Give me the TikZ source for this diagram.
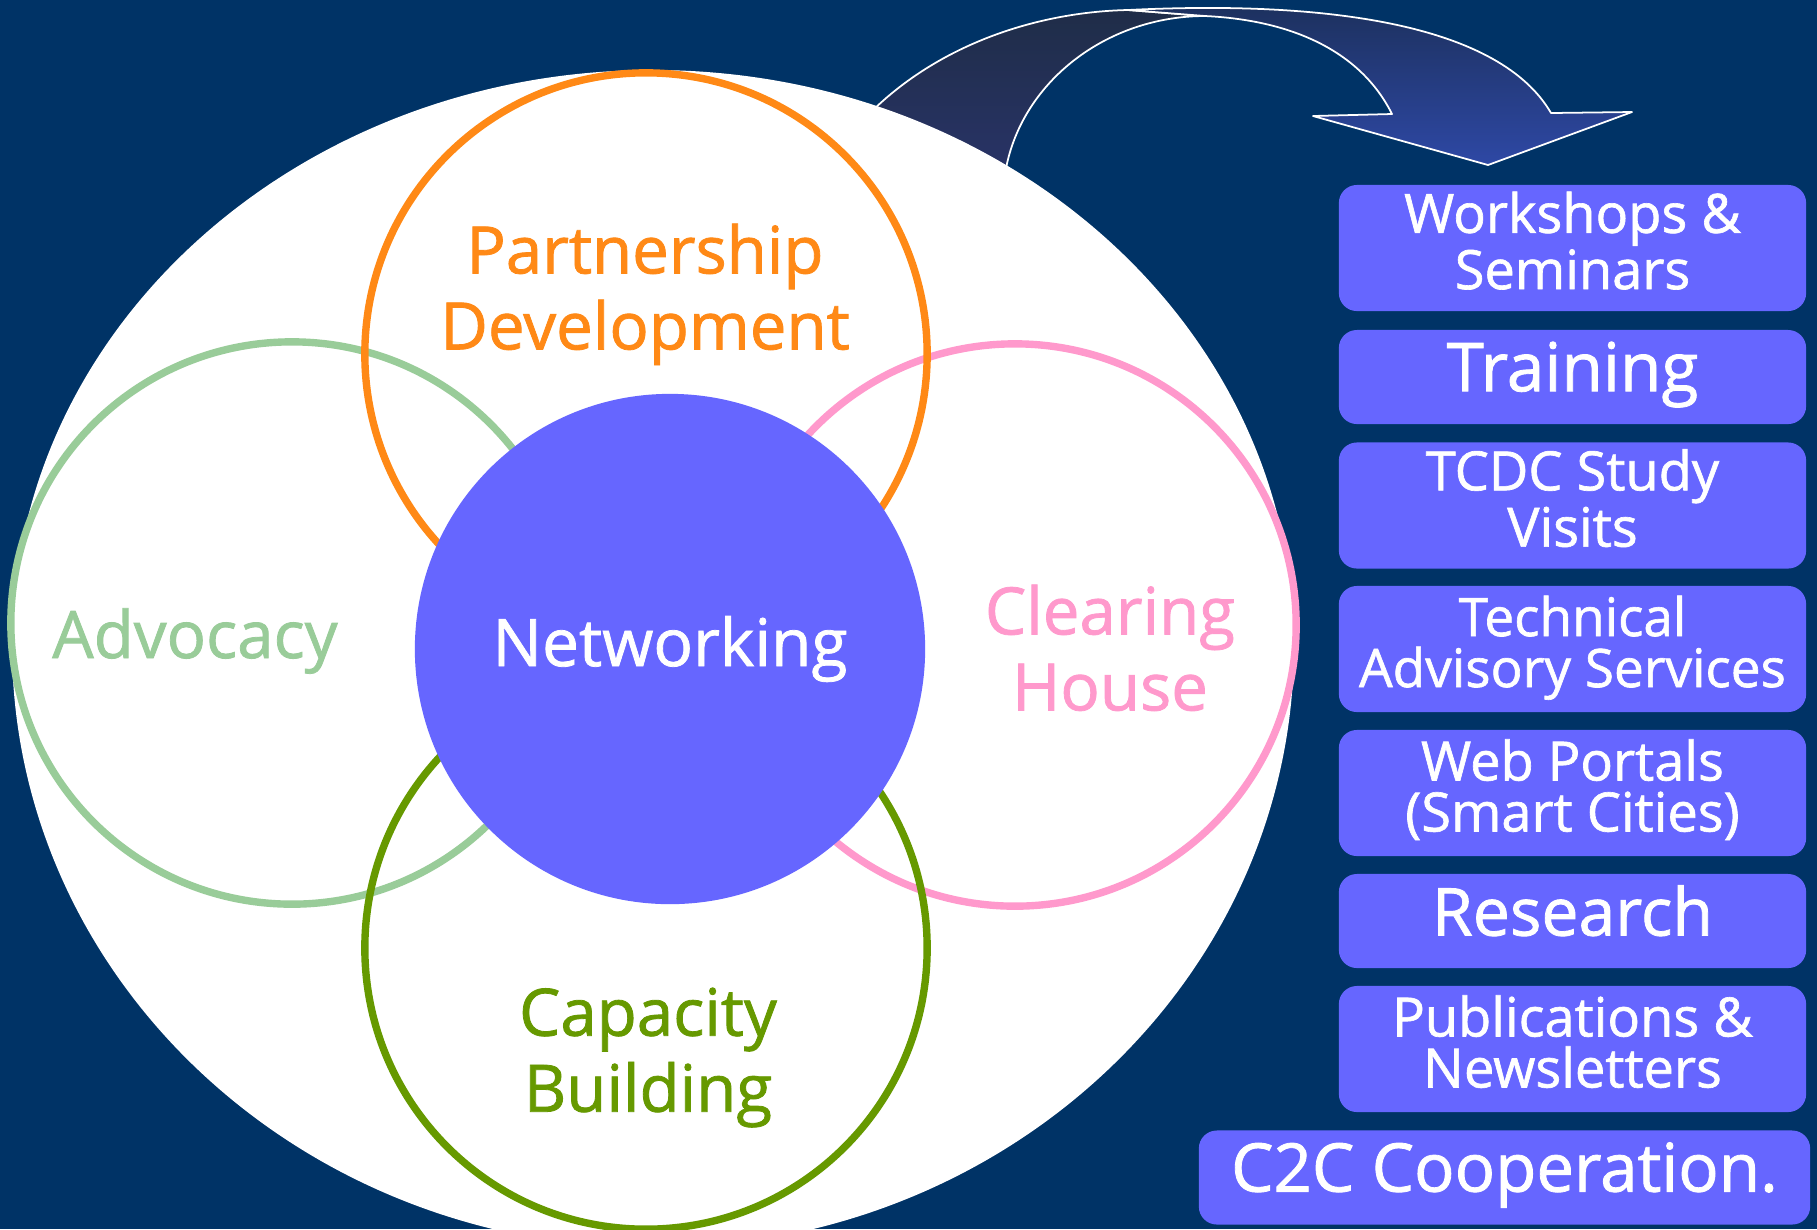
\documentclass[tikz,border=0pt]{standalone}
\usepackage{fontspec}
\setmainfont{Open Sans}[FakeBold=1.2]

\definecolor{navy}{RGB}{0,51,102}
\definecolor{netblue}{RGB}{102,102,255}
\definecolor{pdorange}{RGB}{255,137,22}
\definecolor{advgreen}{RGB}{153,204,153}
\definecolor{chpink}{RGB}{255,153,204}
\definecolor{cbgreen}{RGB}{102,153,0}
\definecolor{backtop}{RGB}{31,45,72}
\definecolor{backbot}{RGB}{42,52,108}
\definecolor{fronttop}{RGB}{28,48,92}
\definecolor{frontbot}{RGB}{46,72,165}

\begin{document}
\begin{tikzpicture}[x=0.01cm, y=-0.01cm,
	ring/.style={circle, draw, line width=2.1pt, minimum size=5.62cm, inner sep=0pt},
	lbl/.style={font=\fontsize{18.6}{21.6}\selectfont, align=center, inner sep=0pt},
	item/.style={fill=netblue, text=white, rounded corners=0.18cm, align=center, inner sep=0pt, minimum width=4.67cm, execute at end node=\strut},
	twoline/.style={item, minimum height=1.26cm, font=\fontsize{15.4}{14.5}\selectfont},
	oneline/.style={item, minimum height=0.94cm, font=\fontsize{18.8}{20}\selectfont},
	arrowline/.style={draw=white, line width=0.5pt, line join=round}]
	\def\bx{1572.5}

	% BACKGROUND
	\useasboundingbox (0,0) rectangle (1817,1229);
	\fill[navy] (0,0) rectangle (1817,1229);

	% ARROW
	\draw[arrowline, top color=backtop, bottom color=backbot] (850,135) .. controls (920,50) and (1030,12) .. (1128,10) -- (1205,16) .. controls (1095,16) and (1003,98) .. (1003,200) -- cycle;
	\draw[arrowline, top color=fronttop, bottom color=frontbot] (1128,10) .. controls (1330,0) and (1500,25) .. (1551,113) -- (1632,112) -- (1488,165) -- (1313,116) -- (1392,114) .. controls (1360,50) and (1290,20) .. (1205,16) -- cycle;

	% EGG
	\fill[white] (12,645) arc[start angle=180, end angle=360, x radius=641, y radius=575]
		arc[start angle=0, end angle=180, x radius=641, y radius=603] -- cycle;

	% CIRCLES
	\node[ring, draw=advgreen] (adv) at (292,623) {};
	\node[ring, draw=chpink] (ch) at (1015,625) {};
	\node[ring, draw=pdorange] (pd) at (646,354) {};
	\node[ring, draw=cbgreen] (cb) at (646,948) {};
	\node[circle, fill=netblue, minimum size=5.1cm, inner sep=0pt, text=white,
		font=\fontsize{18.7}{21.6}\selectfont] (net) at (670,649) {Networking};

	% LABELS
	\node[lbl, text=pdorange, anchor=north] (pdtext) at (645,223) {Partnership\\Development};
	\node[lbl, text=advgreen, anchor=base] (advtext) at (195,658) {Advocacy};
	\node[lbl, text=chpink, anchor=north] (chtext) at (1110,584) {Clearing\\House};
	\node[lbl, text=cbgreen, anchor=north] (cbtext) at (648,987) {Capacity\\Building};

	% BOXES
	\node[twoline] (ws) at (\bx,248) {Workshops \&\\Seminars};
	\node[oneline, font=\fontsize{19.2}{20}\selectfont] (tr) at (\bx,377) {Training};
	\node[twoline] (tcdc) at (\bx,505.5) {TCDC Study\\Visits};
	\node[twoline, font=\fontsize{15.1}{14.5}\selectfont] (tas) at (\bx,649) {Technical\\Advisory Services};
	\node[twoline] (web) at (\bx,793) {Web Portals\\(Smart Cities)};
	\node[oneline] (res) at (\bx,921) {Research};
	\node[twoline] (pub) at (\bx,1049) {Publications \&\\Newsletters};
	\node[oneline, minimum width=6.11cm, font=\fontsize{19.1}{20}\selectfont] (c2c) at (1504.5,1177.5) {C2C Cooperation.};
\end{tikzpicture}
\end{document}
